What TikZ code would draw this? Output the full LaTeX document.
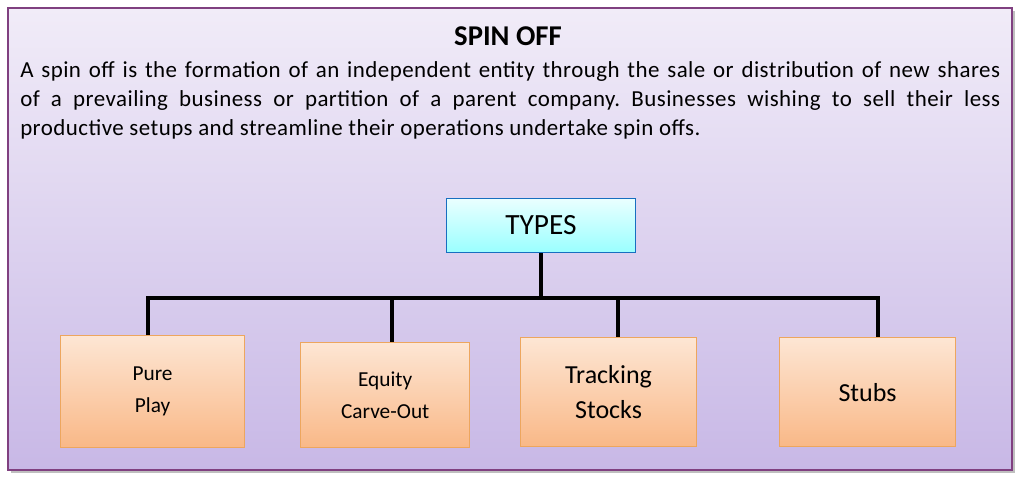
\documentclass[tikz,border=0pt]{standalone}
\usepackage{fontspec}
\setmainfont{Carlito}
\frenchspacing
\definecolor{lavtop}{HTML}{F1ECF8}
\definecolor{lavbot}{HTML}{C8B8E6}
\definecolor{oratop}{HTML}{FDE6D4}
\definecolor{orabot}{HTML}{F9B887}
\begin{document}
\begin{tikzpicture}[x=0.75pt,y=-0.75pt,
  typebox/.style={draw=orange!60!brown!70, line width=0.8pt, top color=oratop, bottom color=orabot, align=center, anchor=north west, inner sep=0pt},
  conn/.style={line width=2.4pt}]
\useasboundingbox (0,0) rectangle (1024,483);
\fill[black!25] (11,11) rectangle (1015,473);
\shade[top color=lavtop, bottom color=lavbot, draw=violet!50!gray, line width=0.8pt] (8,8) rectangle (1012,470);
\node (title) at (508,36) {\fontsize{21.5}{24}\selectfont\bfseries SPIN OFF};
\node[anchor=north west, inner sep=0pt, text width=735pt, align=justify, font=\fontsize{17.2}{22}\selectfont\addfontfeatures{LetterSpace=2}] (para) at (20,61)
 {A spin off is the formation of an independent entity through the sale or distribution of new shares\linebreak of a prevailing business or partition of a parent company. Businesses wishing to sell their less\linebreak productive setups and streamline their operations undertake spin offs.};
\node[draw=cyan!50!blue, line width=0.8pt, top color=cyan!8, bottom color=cyan!40, minimum width=142pt, minimum height=41pt, font=\fontsize{22}{26}\selectfont] (types) at (541,225.5) {TYPES};
\node[typebox, minimum width=138pt, minimum height=84pt, font=\fontsize{16}{24}\selectfont] (b1) at (60,335) {Pure\\Play};
\node[typebox, minimum width=127pt, minimum height=79pt, font=\fontsize{16}{24}\selectfont] (b2) at (300,342) {Equity\\Carve-Out};
\node[typebox, minimum width=132pt, minimum height=82pt, font=\fontsize{19.5}{26}\selectfont] (b3) at (520,337) {Tracking\\Stocks};
\node[typebox, minimum width=132pt, minimum height=82pt, font=\fontsize{19.5}{24}\selectfont] (b4) at (779,337) {Stubs};
\coordinate (j) at (541,298);
\draw[conn] (types.south) -- (j);
\draw[conn] (b1.north -| 148,0) -- (148,298) -- (878,298) -- (b4.north -| 878,0);
\draw[conn] (392,298) -- (b2.north -| 392,0);
\draw[conn] (618,298) -- (b3.north -| 618,0);
\end{tikzpicture}
\end{document}
